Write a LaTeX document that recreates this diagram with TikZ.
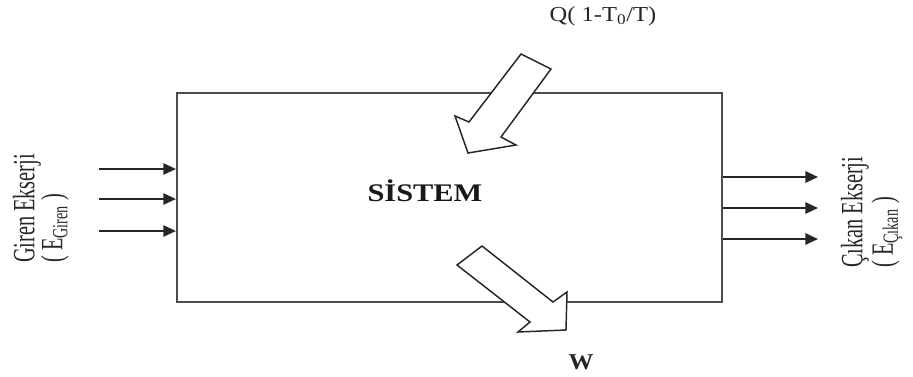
\documentclass[tikz,border=0pt]{standalone}
\usepackage{fontspec}
\setmainfont{Liberation Serif}
\usetikzlibrary{arrows.meta}
\newcommand{\tallside}[1]{\scalebox{0.95}[1.45]{#1}}
\begin{document}
\begin{tikzpicture}[x=0.75pt,y=-0.75pt,
  flow/.style={line width=1.5pt, draw=black!85, -{Triangle[length=9.5pt,width=8.5pt]}},
  hollow/.style={draw=black!85, line width=1.1pt, fill=white, line join=miter},
  sidelbl/.style={font=\fontsize{16}{19}\selectfont, inner sep=0pt, rotate=90, anchor=west, text=black!85},
  toplbl/.style={font=\fontsize{16}{19}\selectfont, inner sep=0pt, text=black!85},
  sysbox/.style={draw=black!70, line width=1.6pt, minimum width=408.75pt, minimum height=156.75pt, inner sep=0pt}]
\useasboundingbox (0,0) rectangle (913,376);
% system box
\node[sysbox] (sys) at (449.5,197.5) {};
\node[inner sep=0pt, font=\bfseries\fontsize{19}{22}\selectfont, text=black!90] (title) at (425,191) {\scalebox{1.2}[1]{SİSTEM}};
% inlet arrows
\coordinate (l1) at (99,169);
\coordinate (l2) at (99,199);
\coordinate (l3) at (99,231);
\draw[flow] (l1) -- (l1 -| sys.west);
\draw[flow] (l2) -- (l2 -| sys.west);
\draw[flow] (l3) -- (l3 -| sys.west);
% outlet arrows
\coordinate (r1) at (818,177);
\coordinate (r2) at (818,208);
\coordinate (r3) at (818,239);
\draw[flow] (r1 -| sys.east) -- (r1);
\draw[flow] (r2 -| sys.east) -- (r2);
\draw[flow] (r3 -| sys.east) -- (r3);
% heat arrow
\draw[hollow] (521,54) -- (551,69) -- (501,137) -- (516,145) -- (468,153) -- (455,116) -- (469,122) -- cycle;
% work arrow
\draw[hollow] (457,265) -- (482,246) -- (553,302) -- (567,292) -- (566,330) -- (518,332) -- (530,322) -- cycle;
% labels
\node[toplbl] (q) at (603,16) {\scalebox{1.15}[1]{Q( 1-T\textsubscript{0}/T)}};
\node[inner sep=0pt, font=\bfseries\fontsize{17}{20}\selectfont, text=black!85] (w) at (581,362) {\scalebox{1.1}[1]{W}};
\node[sidelbl] (gin1) at (27,263) {\tallside{Giren Ekserji}};
\node[sidelbl] (gin2) at (55,263) {\tallside{( E\textsubscript{Giren} )}};
\node[sidelbl] (cik1) at (855,268) {\tallside{Çıkan Ekserji}};
\node[sidelbl] (cik2) at (887,268) {\tallside{( E\textsubscript{Çıkan} )}};
\end{tikzpicture}
\end{document}
